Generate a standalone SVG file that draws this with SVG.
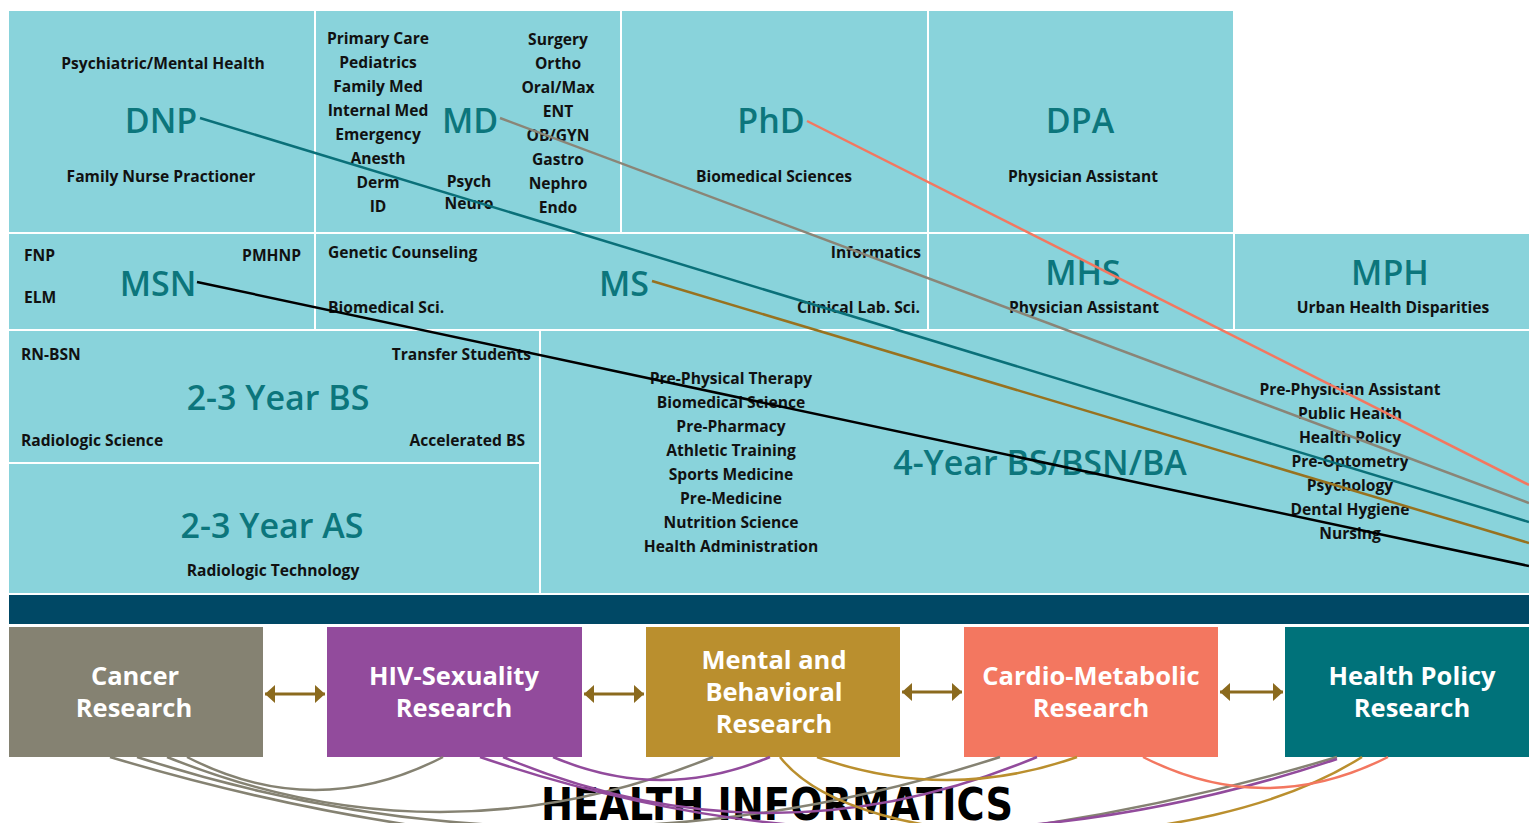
<svg xmlns="http://www.w3.org/2000/svg" width="1529" height="823" viewBox="0 0 1529 823">
<style>
.cell{fill:#89D3DB}
.t{font-family:"Open Sans","Noto Sans",sans-serif;font-weight:700;font-size:15.6px;fill:#111}
.c{text-anchor:middle}
.r{text-anchor:end}
.big{font-family:"Open Sans","Noto Sans",sans-serif;font-weight:600;font-size:34px;fill:#0C767C;text-anchor:middle}
.rt{font-family:"Open Sans","Noto Sans",sans-serif;font-weight:700;font-size:25.5px;fill:#fff;text-anchor:middle}
.ln{fill:none;stroke-width:2.5}
.cv{fill:none;stroke-width:2.5}
.arr{stroke:#8B6A1E;stroke-width:3;fill:none}
</style>
<defs>
<marker id="ah" viewBox="0 0 10 18" refX="10" refY="9" markerWidth="10" markerHeight="18" markerUnits="userSpaceOnUse" orient="auto-start-reverse">
<path d="M0,0 L10,9 L0,18 Z" fill="#8B6A1E"/>
</marker>
</defs>
<rect width="1529" height="823" fill="#fff"/>

<g id="dnp">
<rect class="cell" x="9" y="11" width="305" height="221"/>
<text class="t c" x="163" y="69">Psychiatric/Mental Health</text>
<text class="big" x="161" y="133">DNP</text>
<text class="t c" x="161" y="182">Family Nurse Practioner</text>
</g>
<g id="md">
<rect class="cell" x="316" y="11" width="304" height="221"/>
<text class="t c" x="378" y="44">Primary Care</text>
<text class="t c" x="378" y="68">Pediatrics</text>
<text class="t c" x="378" y="92">Family Med</text>
<text class="t c" x="378" y="116">Internal Med</text>
<text class="t c" x="378" y="140">Emergency</text>
<text class="t c" x="378" y="164">Anesth</text>
<text class="t c" x="378" y="188">Derm</text>
<text class="t c" x="378" y="212">ID</text>
<text class="t c" x="558" y="45">Surgery</text>
<text class="t c" x="558" y="69">Ortho</text>
<text class="t c" x="558" y="93">Oral/Max</text>
<text class="t c" x="558" y="117">ENT</text>
<text class="t c" x="558" y="141">OB/GYN</text>
<text class="t c" x="558" y="165">Gastro</text>
<text class="t c" x="558" y="189">Nephro</text>
<text class="t c" x="558" y="213">Endo</text>
<text class="t c" x="469" y="187">Psych</text>
<text class="t c" x="469" y="209">Neuro</text>
<text class="big" x="470" y="133">MD</text>
</g>
<g id="phd">
<rect class="cell" x="622" y="11" width="305" height="221"/>
<text class="big" x="771" y="133">PhD</text>
<text class="t c" x="774" y="182">Biomedical Sciences</text>
</g>
<g id="dpa">
<rect class="cell" x="929" y="11" width="304" height="221"/>
<text class="big" x="1080" y="133">DPA</text>
<text class="t c" x="1083" y="182">Physician Assistant</text>
</g>
<g id="msn">
<rect class="cell" x="9" y="234" width="305" height="95"/>
<text class="t" x="24" y="261">FNP</text>
<text class="t" x="24" y="303">ELM</text>
<text class="t r" x="301" y="261">PMHNP</text>
<text class="big" x="158" y="296">MSN</text>
</g>
<g id="ms">
<rect class="cell" x="316" y="234" width="611" height="95"/>
<text class="t" x="328" y="258">Genetic Counseling</text>
<text class="t" x="328" y="313">Biomedical Sci.</text>
<text class="t r" x="921" y="258">Informatics</text>
<text class="t r" x="920" y="313">Clinical Lab. Sci.</text>
<text class="big" x="624" y="296">MS</text>
</g>
<g id="mhs">
<rect class="cell" x="929" y="234" width="304" height="95"/>
<text class="big" x="1083" y="285">MHS</text>
<text class="t c" x="1084" y="313">Physician Assistant</text>
</g>
<g id="mph">
<rect class="cell" x="1235" y="234" width="294" height="95"/>
<text class="big" x="1390" y="285">MPH</text>
<text class="t c" x="1393" y="313">Urban Health Disparities</text>
</g>
<g id="bs23">
<rect class="cell" x="9" y="331" width="530" height="131"/>
<text class="t" x="21" y="360">RN-BSN</text>
<text class="t r" x="531" y="360">Transfer Students</text>
<text class="big" x="278" y="410">2-3 Year BS</text>
<text class="t" x="21" y="446">Radiologic Science</text>
<text class="t r" x="525" y="446">Accelerated BS</text>
</g>
<g id="as23">
<rect class="cell" x="9" y="464" width="530" height="129"/>
<text class="big" x="272" y="538">2-3 Year AS</text>
<text class="t c" x="273" y="576">Radiologic Technology</text>
</g>
<g id="bs4">
<rect class="cell" x="541" y="331" width="988" height="262"/>
<text class="t c" x="731" y="384">Pre-Physical Therapy</text>
<text class="t c" x="731" y="408">Biomedical Science</text>
<text class="t c" x="731" y="432">Pre-Pharmacy</text>
<text class="t c" x="731" y="456">Athletic Training</text>
<text class="t c" x="731" y="480">Sports Medicine</text>
<text class="t c" x="731" y="504">Pre-Medicine</text>
<text class="t c" x="731" y="528">Nutrition Science</text>
<text class="t c" x="731" y="552">Health Administration</text>
<text class="big" x="1040" y="475">4-Year BS/BSN/BA</text>
<text class="t c" x="1350" y="395">Pre-Physician Assistant</text>
<text class="t c" x="1350" y="419">Public Health</text>
<text class="t c" x="1350" y="443">Health Policy</text>
<text class="t c" x="1350" y="467">Pre-Optometry</text>
<text class="t c" x="1350" y="491">Psychology</text>
<text class="t c" x="1350" y="515">Dental Hygiene</text>
<text class="t c" x="1350" y="539">Nursing</text>
</g>
<g id="bar">
<rect x="9" y="595" width="1520" height="29" fill="#004865"/>
</g>
<g id="cancer">
<rect x="9" y="627" width="254" height="130" fill="#858272"/>
<text class="rt" x="135" y="685">Cancer</text>
<text class="rt" x="134" y="717">Research</text>
</g>
<g id="hiv">
<rect x="327" y="627" width="255" height="130" fill="#924B9C"/>
<text class="rt" x="454" y="685">HIV-Sexuality</text>
<text class="rt" x="454" y="717">Research</text>
</g>
<g id="mental">
<rect x="646" y="627" width="254" height="130" fill="#BA8F2E"/>
<text class="rt" x="774" y="669">Mental and</text>
<text class="rt" x="774" y="701">Behavioral</text>
<text class="rt" x="774" y="733">Research</text>
</g>
<g id="cardio">
<rect x="964" y="627" width="254" height="130" fill="#F37760"/>
<text class="rt" x="1091" y="685">Cardio-Metabolic</text>
<text class="rt" x="1091" y="717">Research</text>
</g>
<g id="policy">
<rect x="1285" y="627" width="244" height="130" fill="#00727A"/>
<text class="rt" x="1412" y="685">Health Policy</text>
<text class="rt" x="1412" y="717">Research</text>
</g>
<g id="title">
<text x="541" y="820" font-family="'DejaVu Sans Condensed','DejaVu Sans',sans-serif" font-weight="bold" font-size="44" textLength="472" lengthAdjust="spacingAndGlyphs" fill="#000">HEALTH INFORMATICS</text>
</g>
<g id="connectors">
<line class="ln" x1="200" y1="118" x2="1529" y2="522" stroke="#0A7079"/>
<line class="ln" x1="500" y1="118" x2="1529" y2="503" stroke="#8A8577"/>
<line class="ln" x1="807" y1="121" x2="1529" y2="485" stroke="#F37760"/>
<line class="ln" x1="652" y1="281" x2="1529" y2="543" stroke="#98721F"/>
<line class="ln" x1="197" y1="282" x2="1529" y2="566" stroke="#000"/>
<line class="arr" x1="265" y1="694" x2="325" y2="694" marker-start="url(#ah)" marker-end="url(#ah)"/>
<line class="arr" x1="584" y1="694" x2="644" y2="694" marker-start="url(#ah)" marker-end="url(#ah)"/>
<line class="arr" x1="902" y1="692" x2="962" y2="692" marker-start="url(#ah)" marker-end="url(#ah)"/>
<line class="arr" x1="1220" y1="692" x2="1283" y2="692" marker-start="url(#ah)" marker-end="url(#ah)"/>
<path class="cv" stroke="#858272" d="M187,757 Q315,823 443,757"/>
<path class="cv" stroke="#858272" d="M167,757 Q440,867 713,757"/>
<path class="cv" stroke="#858272" d="M137,757 Q568,897 1000,757"/>
<path class="cv" stroke="#858272" d="M110,757 Q723,941 1337,757"/>
<path class="cv" stroke="#924B9C" d="M553,757 Q661,803 770,757"/>
<path class="cv" stroke="#924B9C" d="M503,757 Q770,869 1037,757"/>
<path class="cv" stroke="#924B9C" d="M480,757 Q908,903 1337,759"/>
<path class="cv" stroke="#BA8F2E" d="M817,757 Q947,803 1077,757"/>
<path class="cv" stroke="#BA8F2E" d="M780,757 C860,860 1200,860 1362,757"/>
<path class="cv" stroke="#F37760" d="M1143,757 Q1265,819 1388,757"/>
</g>
</svg>
